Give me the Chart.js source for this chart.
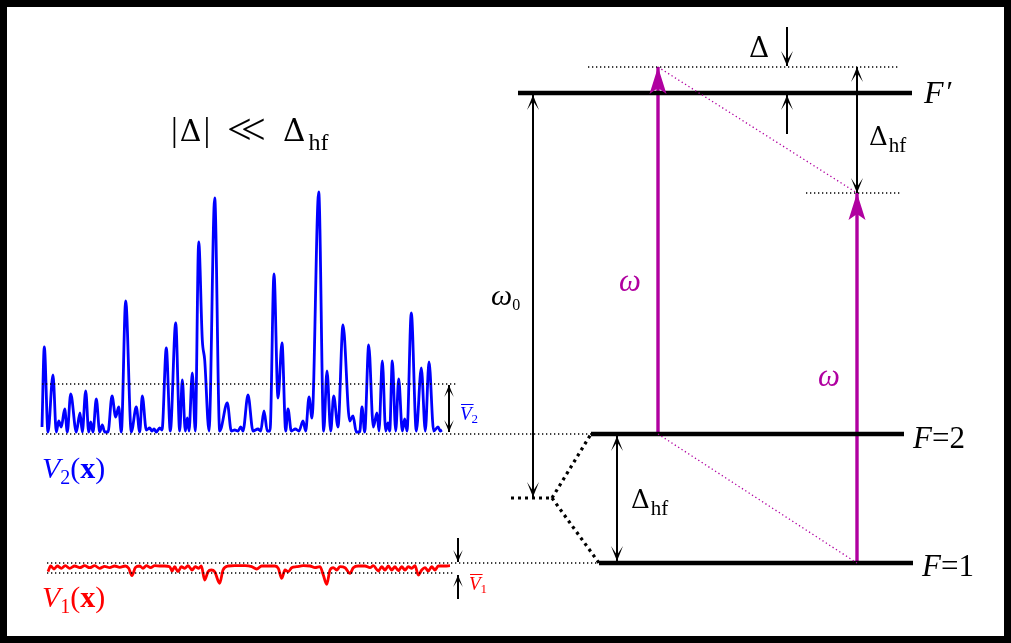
<!DOCTYPE html>
<html>
<head>
<meta charset="utf-8">
<script src="https://cdn.jsdelivr.net/npm/chart.js@4.4.1/dist/chart.umd.min.js"></script>
<style>
  html, body { margin: 0; padding: 0; background: #fff; }
  #wrap { width: 1011px; height: 643px; }
</style>
</head>
<body>
<div id="wrap"><canvas id="myChart" width="1011" height="643"></canvas></div>
<script>
// speckle potential seen by F=2 : position and height above its zero line
let v2X = [42, 44.3, 48, 53, 56.3, 58.7, 61.3, 64.7, 67.3, 70.7, 76.3, 80, 82.3, 85.7, 88.7, 90.7, 93, 96.3, 99.7, 102.3, 104.7, 108, 112, 115.7, 118.7, 121.3, 125.7, 131.3, 136.3, 139.7, 142.3, 146.3, 149.7, 152, 154, 156.3, 159.7, 162, 166.3, 170.3, 175.7, 179.7, 182.3, 185.3, 187.3, 189, 192.3, 195.3, 198.7, 202.3, 204.7, 209, 214.7, 219.7, 227.3, 231.3, 234.7, 238, 240.7, 243, 248, 253, 258, 260.7, 264, 267.3, 270, 274, 278, 282, 285.7, 288, 291.3, 295.3, 299, 303, 305.7, 309, 312, 318.7, 323.7, 327, 330.7, 333.7, 338, 343, 349.7, 353, 356.3, 359.7, 362, 364.7, 368.7, 373.3, 377, 379, 382.3, 385.7, 388, 389.7, 392.3, 395.7, 398.7, 402.3, 404.7, 407, 411.3, 416.3, 421.3, 425.3, 429, 433.7, 438, 440.3, 442];
let v2Height = [5, 85, 0, 57, 0, 11, 5, 23, 0, 38, 0, 19, 0, 41, 0, 10, 0, 33, 0, 7, 0, 0, 36, 15, 25, 0, 131, 0, 25, 0, 36, 2, 4, 1, 3, 0, 4, 2, 84, 1, 109, 1, 52, 1, 14, 1, 59, 1, 190, 92, 72, 1, 234, 1, 29, 1, 2, 1, 5, 1, 37, 1, 3, 1, 21, 1, 1, 158, 34, 89, 1, 23, 1, 3, 1, 11, 1, 35, 14, 240, 1, 61, 1, 36, 5, 107, 11, 16, 0, 0, 25, 0, 87, 5, 19, 1, 71, 1, 9, 1, 71, 1, 53, 1, 13, 1, 119, 1, 64, 1, 70, 1, 5, 1, 2];
let v2Zero = 432;
let v2Mean = 384;

// potential seen by F=1 : position and depth below its zero line
let v1X = [48, 50.7, 54, 57.3, 61.3, 65.3, 69.7, 74.7, 79.7, 84.7, 89.7, 94.7, 99.7, 104.7, 109.7, 114.7, 119.7, 125.3, 128.7, 132, 135.3, 139.7, 143, 146.3, 150.7, 154.7, 159.7, 164.7, 169.7, 172, 174.7, 178, 181.3, 184.7, 188, 192, 195.3, 198.7, 201.3, 204.7, 208, 211.3, 214.7, 219.7, 223, 228, 234.7, 241.3, 245, 251.7, 256.7, 261.7, 268.3, 275, 278.3, 281.7, 285, 288.3, 291.7, 296.7, 303.3, 310, 315, 320, 323.3, 326.7, 330, 333.3, 336.7, 340, 345, 350, 353.3, 358.3, 365, 370, 373.3, 378.3, 381.7, 385, 388.3, 391.7, 395, 398.3, 401.7, 405, 408.3, 411.7, 415, 418.3, 421.7, 425, 428.3, 431.7, 435, 438.3, 445, 450];
let v1Depth = [8.7, 3, 6, 3, 5.3, 2.7, 5.3, 3, 4.7, 2.7, 4.7, 2.7, 5.3, 3.3, 4.7, 3, 4.3, 3, 5.3, 12.7, 4.7, 3, 5.3, 2.7, 4.7, 2.7, 3, 3, 3.7, 8, 3.7, 8.7, 3.7, 5.3, 2.7, 7, 3.7, 5.3, 3, 17, 8.7, 7, 8.7, 20.3, 7, 3, 2.7, 2.7, 2.7, 3.7, 6, 3, 3, 3, 5.3, 15.3, 7, 8.7, 4.7, 3.7, 2.7, 3, 4.7, 3.7, 12, 21.3, 7, 4.7, 7, 3.7, 4.7, 10.3, 4.7, 3, 3, 4.7, 2.7, 8, 3.7, 7, 3, 7, 3.7, 7.7, 3.7, 7, 3.7, 5.3, 2.7, 12, 7, 4.7, 8, 3.7, 7, 3, 3, 2.7];
let v1Zero = 563;
let v1Mean = 573;

// hyperfine levels (names, height, extent)
let levelNames = ["F'", 'F=2', 'F=1'];
let levelY = [93, 434, 563];
let levelFrom = [518, 591, 599];
let levelTo = [912, 904, 913];

// lines: [x1, y1, x2, y2]
let dottedThin = [[42, 384, 457, 384], [42, 434, 591, 434], [47, 563, 598, 563], [47, 573, 455, 573], [588, 67, 898, 67], [806, 193, 900, 193]];
let dottedThick = [[511, 498, 552, 498], [552, 498, 591, 434], [552, 498, 599, 563]];
let laserDotted = [[658, 67, 857, 193], [658, 434, 857, 563]];

// arrows: [x1, y1, x2, y2, both ends?, size]
let blackArrows = [[787, 27, 787, 66, false, 1], [787, 134, 787, 95, false, 1], [857, 67, 857, 193, true, 1], [533, 95, 533, 497, true, 1], [617, 436, 617, 561, true, 1], [449, 385, 449, 432, true, 0.8], [458, 538, 458, 562, false, 0.8], [458, 599, 458, 575, false, 0.8]];
let laserArrows = [[658, 433, 658, 67], [857, 563, 857, 193]];

const BLUE = '#0000ff', RED = '#ff0000', MAG = '#b000a0', INK = '#000000';
const SERIF = '"Liberation Serif", "DejaVu Serif", serif';
const DSERIF = '"DejaVu Serif", serif';
const f = (size, style) => (style ? style + ' ' : '') + size + 'px ' + SERIF;
const d = size => size + 'px ' + DSERIF;

// text pieces: [text, font, dy, overline, gap before]
let texts = [
  { x: 171, y: 141, c: INK, parts: [['|', f(34)], ['Δ', d(30), 0, false, 2], ['|', f(34), 0, false, 2]] },
  { x: 227, y: 144, c: INK, parts: [['<', f(44)]] },
  { x: 241, y: 144, c: INK, parts: [['<', f(44)]] },
  { x: 283, y: 141, c: INK, parts: [['Δ', d(31)], ['hf', f(24), 9, false, 3]] },
  { x: 749, y: 57, c: INK, parts: [['Δ', d(28)]] },
  { x: 924, y: 103, c: INK, parts: [['F', f(32, 'italic')], ['′', f(30), -2, false, 3]] },
  { x: 869, y: 145, c: INK, parts: [['Δ', d(26)], ['hf', f(21), 7, false, 1]] },
  { x: 631, y: 508, c: INK, parts: [['Δ', d(26)], ['hf', f(21), 7, false, 1]] },
  { x: 491, y: 305, c: INK, parts: [['ω', f(30, 'italic')], ['0', f(16), 5]] },
  { x: 619, y: 291, c: MAG, parts: [['ω', f(31, 'italic')]] },
  { x: 818, y: 386, c: MAG, parts: [['ω', f(31, 'italic')]] },
  { x: 913, y: 448, c: INK, parts: [['F', f(31, 'italic')], ['=2', f(31)]] },
  { x: 922, y: 576, c: INK, parts: [['F', f(31, 'italic')], ['=1', f(31)]] },
  { x: 42, y: 478, c: BLUE, parts: [['V', f(30, 'italic')], ['2', f(20), 6], ['(', f(30)], ['x', f(30, 'bold')], [')', f(30)]] },
  { x: 42, y: 607, c: RED, parts: [['V', f(30, 'italic')], ['1', f(20), 6], ['(', f(30)], ['x', f(30, 'bold')], [')', f(30)]] },
  { x: 460, y: 420, c: BLUE, parts: [['V', f(19, 'italic'), 0, true], ['2', f(13), 3]] },
  { x: 469, y: 590, c: RED, parts: [['V', f(19, 'italic'), 0, true], ['1', f(13), 3]] }
];

const seg = (s, color, width, dash) => ({
  data: [{ x: s[0], y: s[1] }, { x: s[2], y: s[3] }],
  borderColor: color, borderWidth: width, borderDash: dash || [], pointRadius: 0, showLine: true
});

const datasets = [];
dottedThin.forEach(s => datasets.push(seg(s, INK, 1.3, [1.3, 2.7])));
dottedThick.forEach(s => datasets.push(seg(s, INK, 3.2, [3, 4])));
laserDotted.forEach(s => datasets.push(seg(s, MAG, 1.3, [1.3, 2.7])));
levelNames.forEach((n, i) => datasets.push(seg([levelFrom[i], levelY[i], levelTo[i], levelY[i]], INK, 4.5)));
blackArrows.forEach(a => { const ds = seg(a, INK, 2); ds.head = { kind: 'open', both: a[4], size: a[5] }; datasets.push(ds); });
laserArrows.forEach(a => { const ds = seg(a, MAG, 3.4); ds.head = { kind: 'solid', both: false, size: 1 }; datasets.push(ds); });
datasets.push({
  data: v2X.map((x, i) => ({ x: x, y: v2Zero - v2Height[i] })),
  borderColor: BLUE, borderWidth: 2.8, pointRadius: 0, showLine: true, cubicInterpolationMode: 'monotone'
});
datasets.push({
  data: v1X.map((x, i) => ({ x: x, y: v1Zero + v1Depth[i] })),
  borderColor: RED, borderWidth: 2.8, pointRadius: 0, showLine: true, cubicInterpolationMode: 'monotone'
});

function drawHead(ctx, tx, ty, fx, fy, h, color) {
  const a = Math.atan2(ty - fy, tx - fx);
  ctx.save();
  ctx.translate(tx, ty);
  ctx.rotate(a);
  ctx.beginPath();
  if (h.kind === 'solid') {
    ctx.moveTo(0, 0); ctx.lineTo(-27, -8.5); ctx.lineTo(-21, 0); ctx.lineTo(-27, 8.5);
  } else {
    const s = h.size;
    ctx.moveTo(0, 0); ctx.lineTo(-15 * s, -6 * s); ctx.lineTo(-6 * s, 0); ctx.lineTo(-15 * s, 6 * s);
  }
  ctx.closePath();
  ctx.fillStyle = color;
  ctx.fill();
  ctx.restore();
}

const extras = {
  id: 'extras',
  afterDatasetsDraw(chart) {
    const ctx = chart.ctx;
    chart.data.datasets.forEach((ds, i) => {
      if (!ds.head) return;
      const p = chart.getDatasetMeta(i).data;
      drawHead(ctx, p[1].x, p[1].y, p[0].x, p[0].y, ds.head, ds.borderColor);
      if (ds.head.both) drawHead(ctx, p[0].x, p[0].y, p[1].x, p[1].y, ds.head, ds.borderColor);
    });
    const sx = chart.scales.x, sy = chart.scales.y;
    ctx.save();
    ctx.textBaseline = 'alphabetic';
    texts.forEach(t => {
      let cx = sx.getPixelForValue(t.x);
      const by = sy.getPixelForValue(t.y);
      ctx.fillStyle = t.c;
      ctx.strokeStyle = t.c;
      t.parts.forEach(p => {
        ctx.font = p[1];
        cx += p[4] || 0;
        const w = ctx.measureText(p[0]).width;
        ctx.fillText(p[0], cx, by + (p[2] || 0));
        if (p[3]) {
          ctx.lineWidth = 1;
          ctx.beginPath();
          ctx.moveTo(cx + 1, by - 15.5); ctx.lineTo(cx + w + 2, by - 15.5);
          ctx.stroke();
        }
        cx += w;
      });
    });
    // figure frame
    ctx.lineWidth = 7;
    ctx.strokeStyle = INK;
    ctx.strokeRect(3.5, 3.5, chart.width - 7, chart.height - 7);
    ctx.restore();
  }
};

const ctx = document.getElementById('myChart').getContext('2d');
const myChart = new Chart(ctx, {
  type: 'scatter',
  data: { datasets: datasets },
  options: {
    responsive: false,
    animation: false,
    events: [],
    layout: { padding: 0 },
    plugins: { legend: { display: false }, tooltip: { enabled: false } },
    scales: {
      x: { type: 'linear', display: false, min: 0, max: 1011 },
      y: { type: 'linear', display: false, min: 0, max: 643, reverse: true }
    }
  },
  plugins: [extras]
});
</script>
</body>
</html>
